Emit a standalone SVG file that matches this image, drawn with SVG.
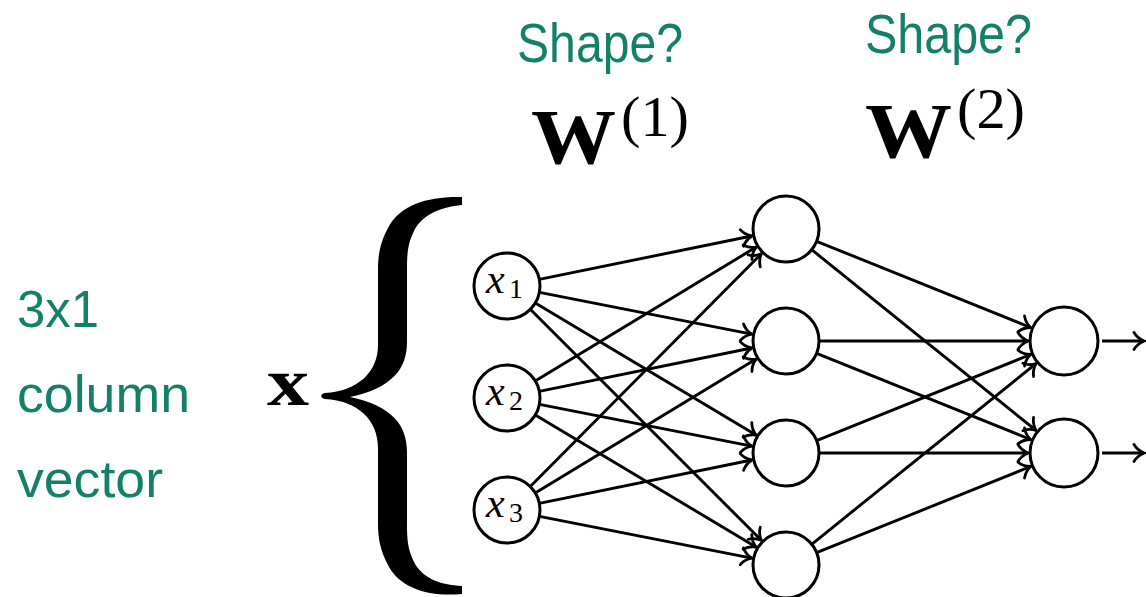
<svg xmlns="http://www.w3.org/2000/svg" width="1146" height="597" viewBox="0 0 1146 597">
  <defs>
    <style>
      .node { fill: #ffffff; stroke: #000000; stroke-width: 3; }
      .edge { fill: none; stroke: #000000; stroke-width: 2.9; marker-end: url(#to); }
      .note { font-family: "Liberation Sans", "DejaVu Sans", sans-serif; fill: #15806a; }
      .math { font-family: "Liberation Serif", "DejaVu Serif", serif; fill: #000000; }
      .var { font-family: "Liberation Serif", "DejaVu Serif", serif; font-style: italic; font-size: 42px; fill: #000000; }
      .sub { font-family: "Liberation Serif", "DejaVu Serif", serif; font-size: 28px; fill: #000000; }
    </style>
    <!-- open "to"-style arrow tip with curved barbs -->
    <marker id="to" markerUnits="userSpaceOnUse" viewBox="-12 -10 14 20" refX="0" refY="0" markerWidth="14" markerHeight="20" orient="auto" overflow="visible">
      <path d="M -10,-8.5 C -7,-3.5 -2.5,-1 0,0 C -2.5,1 -7,3.5 -10,8.5" fill="none" stroke="#000" stroke-width="2.8" stroke-linecap="round"/>
    </marker>
  </defs>

  <rect width="1146" height="597" fill="#ffffff"/>

  <!-- annotations -->
  <g id="labels">
    <text class="note" x="517" y="62" font-size="56" textLength="166" lengthAdjust="spacingAndGlyphs">Shape?</text>
    <text class="note" x="865" y="53" font-size="56" textLength="167" lengthAdjust="spacingAndGlyphs">Shape?</text>
    <text class="math" x="531" y="163" font-size="78" font-weight="bold" textLength="85" lengthAdjust="spacingAndGlyphs">W</text>
    <text class="math" x="621" y="136" font-size="57" textLength="68" lengthAdjust="spacingAndGlyphs">(1)</text>
    <text class="math" x="865" y="157" font-size="78" font-weight="bold" textLength="87" lengthAdjust="spacingAndGlyphs">W</text>
    <text class="math" x="957" y="128" font-size="57" textLength="68" lengthAdjust="spacingAndGlyphs">(2)</text>
    <text class="note" x="17" y="327" font-size="52" textLength="82" lengthAdjust="spacingAndGlyphs">3x1</text>
    <text class="note" x="17" y="412" font-size="52" textLength="173" lengthAdjust="spacingAndGlyphs">column</text>
    <text class="note" x="17" y="497" font-size="52" textLength="146" lengthAdjust="spacingAndGlyphs">vector</text>
    <text class="math" x="267" y="405" font-size="68" font-weight="bold" textLength="42" lengthAdjust="spacingAndGlyphs">x</text>
  </g>

  <!-- curly brace grouping the inputs -->
  <path id="brace" fill="#000000" d="M 462,197 C 430,196 400,204 388,228 C 380,243 378,255 378,270 L 378,345 C 378,372 358,391 325,393 C 320,394 320,398 325,399 C 358,401 378,420 378,448 L 378,523 C 378,538 380,550 388,565 C 400,589 430,597 462,594 L 462,586 C 440,585 422,578 414,562 C 408,550 407,540 407,525 L 407,452 C 407,425 392,406 350,397 C 392,388 407,369 407,342 L 407,268 C 407,253 408,243 414,231 C 422,215 440,207 462,205 Z"/>

  <!-- connectors -->
  <g id="connectors">
    <line class="edge" x1="539.3" y1="279.4" x2="751.7" y2="236.0"/>
    <line class="edge" x1="539.4" y1="292.4" x2="751.7" y2="334.2"/>
    <line class="edge" x1="535.3" y1="303.0" x2="756.0" y2="435.0"/>
    <line class="edge" x1="530.3" y1="309.3" x2="761.3" y2="540.3"/>
    <line class="edge" x1="535.2" y1="380.9" x2="756.1" y2="247.1"/>
    <line class="edge" x1="539.3" y1="391.4" x2="751.7" y2="348.0"/>
    <line class="edge" x1="539.4" y1="404.4" x2="751.7" y2="446.2"/>
    <line class="edge" x1="535.3" y1="415.0" x2="756.0" y2="547.0"/>
    <line class="edge" x1="530.3" y1="486.6" x2="761.3" y2="253.8"/>
    <line class="edge" x1="535.2" y1="492.9" x2="756.1" y2="359.1"/>
    <line class="edge" x1="539.3" y1="503.4" x2="751.7" y2="460.0"/>
    <line class="edge" x1="539.4" y1="516.4" x2="751.7" y2="558.2"/>

    <line class="edge" x1="816.6" y1="241.3" x2="1030.6" y2="327.5"/>
    <line class="edge" x1="811.7" y1="249.7" x2="1036.0" y2="430.4"/>
    <line class="edge" x1="819" y1="341" x2="1028" y2="341"/>
    <line class="edge" x1="816.6" y1="353.3" x2="1030.6" y2="439.5"/>
    <line class="edge" x1="816.6" y1="440.7" x2="1030.6" y2="354.5"/>
    <line class="edge" x1="819" y1="453" x2="1028" y2="453"/>
    <line class="edge" x1="811.7" y1="544.3" x2="1036.0" y2="363.6"/>
    <line class="edge" x1="816.6" y1="552.7" x2="1030.6" y2="466.5"/>

    <line class="edge" x1="1102" y1="341" x2="1144" y2="341"/>
    <line class="edge" x1="1102" y1="453" x2="1144" y2="453"/>
  </g>

  <!-- input layer -->
  <g id="x1">
    <circle class="node" cx="507" cy="286" r="33"/>
    <text class="var" x="486" y="293">x</text>
    <text class="sub" x="509" y="298">1</text>
  </g>
  <g id="x2">
    <circle class="node" cx="507" cy="398" r="33"/>
    <text class="var" x="486" y="405">x</text>
    <text class="sub" x="509" y="410">2</text>
  </g>
  <g id="x3">
    <circle class="node" cx="507" cy="510" r="33"/>
    <text class="var" x="486" y="517">x</text>
    <text class="sub" x="509" y="522">3</text>
  </g>

  <!-- hidden layer -->
  <g id="h1"><circle class="node" cx="786" cy="229" r="33"/></g>
  <g id="h2"><circle class="node" cx="786" cy="341" r="33"/></g>
  <g id="h3"><circle class="node" cx="786" cy="453" r="33"/></g>
  <g id="h4"><circle class="node" cx="786" cy="565" r="33"/></g>

  <!-- output layer -->
  <g id="o1"><circle class="node" cx="1064" cy="341" r="34"/></g>
  <g id="o2"><circle class="node" cx="1064" cy="453" r="34"/></g>
</svg>
